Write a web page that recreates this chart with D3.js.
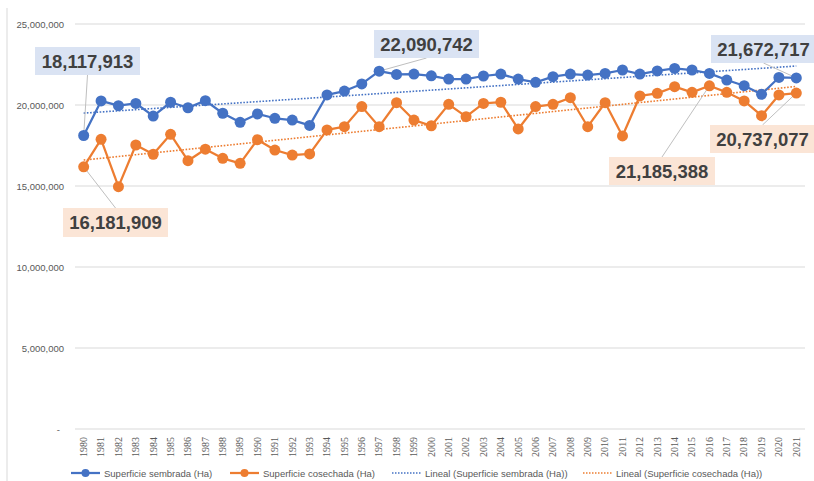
<!DOCTYPE html>
<html>
<head>
<meta charset="utf-8">
<script src="https://cdn.jsdelivr.net/npm/d3@7"></script>
<style>
  body { margin: 0; background: #fff; }
  svg { display: block; font-family: "Liberation Sans", Arial, sans-serif; }
</style>
</head>
<body>
<svg width="814" height="481"></svg>
<script>
const years = d3.range(1980, 2022).map(String);

const sembrada = [
  18117913, 20250000, 19960000, 20100000, 19320000, 20170000, 19830000, 20270000,
  19490000, 18930000, 19450000, 19180000, 19070000, 18740000, 20620000, 20860000,
  21300000, 22090742, 21890000, 21910000, 21800000, 21600000, 21600000, 21790000,
  21910000, 21600000, 21400000, 21750000, 21910000, 21850000, 21950000, 22160000,
  21910000, 22100000, 22260000, 22160000, 21950000, 21540000, 21190000, 20660000,
  21700000, 21672717
];

const cosechada = [
  16181909, 17880000, 14960000, 17530000, 16960000, 18190000, 16560000, 17270000,
  16710000, 16400000, 17860000, 17220000, 16910000, 16980000, 18460000, 18660000,
  19900000, 18660000, 20140000, 19070000, 18720000, 20040000, 19280000, 20100000,
  20170000, 18520000, 19900000, 20040000, 20450000, 18660000, 20140000, 18090000,
  20560000, 20720000, 21130000, 20780000, 21185388, 20780000, 20250000, 19340000,
  20620000, 20737077
];

const yTicks = [0, 5000000, 10000000, 15000000, 20000000, 25000000];

const seriesNames = [
  "Superficie sembrada (Ha)",
  "Superficie cosechada (Ha)",
  "Lineal (Superficie sembrada (Ha))",
  "Lineal (Superficie cosechada (Ha))"
];

// callouts: which point, and where its box sits
const callouts = [
  { s: 0, year: "1980", box: [35, 47, 105, 28] },
  { s: 1, year: "1980", box: [63, 208, 105, 29] },
  { s: 0, year: "1997", box: [374, 30, 105, 28] },
  { s: 0, year: "2021", box: [711, 35, 105, 28] },
  { s: 1, year: "2021", box: [710, 125, 105, 28] },
  { s: 1, year: "2016", box: [609, 157, 106, 28] }
];

const colors = ["#4472c4", "#ed7d31"];
const boxFill = ["#dae3f3", "#fbe5d6"];
const series = [sembrada, cosechada];

const svg = d3.select("svg");

const x = d3.scalePoint().domain(years).range([75, 805]).padding(0.5);
const y = d3.scaleLinear().domain([0, 25000000]).range([429, 24]);

// left frame line
svg.append("line")
  .attr("x1", 7).attr("x2", 7).attr("y1", 8).attr("y2", 481)
  .attr("stroke", "#d9d9d9");

// gridlines
svg.append("g")
  .selectAll("line")
  .data(yTicks)
  .enter().append("line")
  .attr("x1", 75).attr("x2", 805)
  .attr("y1", d => y(d)).attr("y2", d => y(d))
  .attr("stroke", "#d9d9d9")
  .attr("stroke-width", 1);

// y axis labels
const fmt = d3.format(",");
svg.append("g")
  .selectAll("text")
  .data(yTicks)
  .enter().append("text")
  .attr("x", d => d === 0 ? 60 : 64)
  .attr("y", d => y(d) + 3.5)
  .attr("text-anchor", "end")
  .attr("font-size", 9.5)
  .attr("fill", "#595959")
  .text(d => d === 0 ? "-" : fmt(d));

// x axis labels (rotated)
svg.append("g")
  .selectAll("text")
  .data(years)
  .enter().append("text")
  .attr("transform", d => `translate(${x(d) + 3.3},437) rotate(-90)`)
  .attr("text-anchor", "end")
  .attr("font-family", "'Liberation Serif', 'DejaVu Serif', serif")
  .attr("font-size", 10)
  .attr("fill", "#595959")
  .text(d => d);

// linear trend lines (least squares, like Excel "Lineal")
function trend(vals) {
  const idx = vals.map((v, i) => i + 1);
  const mx = d3.mean(idx), my = d3.mean(vals);
  const b = d3.sum(idx, (t, i) => (t - mx) * (vals[i] - my)) / d3.sum(idx, t => (t - mx) ** 2);
  const a = my - b * mx;
  return idx.map(t => a + b * t);
}

series.forEach((vals, s) => {
  const tr = trend(vals);
  svg.append("path")
    .datum(tr)
    .attr("fill", "none")
    .attr("stroke", colors[s])
    .attr("stroke-width", 1.6)
    .attr("stroke-dasharray", "1.6,1.6")
    .attr("d", d3.line().x((d, i) => x(years[i])).y(d => y(d)));
});

// leader lines for callouts
svg.append("g")
  .selectAll("line")
  .data(callouts)
  .enter().append("line")
  .attr("x1", d => {
    const [bx, , bw] = d.box;
    return Math.max(bx + 10, Math.min(bx + bw - 10, bx + bw / 2));
  })
  .attr("y1", d => {
    const py = y(series[d.s][years.indexOf(d.year)]);
    return py > d.box[1] ? d.box[1] + d.box[3] : d.box[1];
  })
  .attr("x2", d => x(d.year))
  .attr("y2", d => y(series[d.s][years.indexOf(d.year)]))
  .attr("stroke", "#bfbfbf")
  .attr("stroke-width", 1);

// series lines and markers
series.forEach((vals, s) => {
  svg.append("path")
    .datum(vals)
    .attr("fill", "none")
    .attr("stroke", colors[s])
    .attr("stroke-width", 2.25)
    .attr("stroke-linejoin", "round")
    .attr("d", d3.line().x((d, i) => x(years[i])).y(d => y(d)));

  svg.append("g")
    .selectAll("circle")
    .data(vals)
    .enter().append("circle")
    .attr("cx", (d, i) => x(years[i]))
    .attr("cy", d => y(d))
    .attr("r", 5.5)
    .attr("fill", colors[s]);
});

// callout boxes
const cg = svg.append("g")
  .selectAll("g")
  .data(callouts)
  .enter().append("g");

cg.append("rect")
  .attr("x", d => d.box[0]).attr("y", d => d.box[1])
  .attr("width", d => d.box[2]).attr("height", d => d.box[3])
  .attr("fill", d => boxFill[d.s]);

cg.append("text")
  .attr("x", d => d.box[0] + d.box[2] / 2)
  .attr("y", d => d.box[1] + d.box[3] / 2 + 6.5)
  .attr("text-anchor", "middle")
  .attr("font-size", 18.5)
  .attr("font-weight", "bold")
  .attr("fill", "#404040")
  .text(d => fmt(series[d.s][years.indexOf(d.year)]));

// legend
const legendX = [71, 230, 392, 583];
const lg = svg.append("g")
  .selectAll("g")
  .data(seriesNames)
  .enter().append("g")
  .attr("transform", (d, i) => `translate(${legendX[i]},473)`);

lg.append("line")
  .attr("x1", 0).attr("x2", 29).attr("y1", 0).attr("y2", 0)
  .attr("stroke", (d, i) => colors[i % 2])
  .attr("stroke-width", (d, i) => i < 2 ? 2.25 : 1.5)
  .attr("stroke-dasharray", (d, i) => i < 2 ? null : "1.5,1.5");

lg.filter((d, i) => i < 2).append("circle")
  .attr("cx", 14.5).attr("cy", 0).attr("r", 4)
  .attr("fill", (d, i) => colors[i]);

lg.append("text")
  .attr("x", 33).attr("y", 3.5)
  .attr("font-size", 9.5)
  .attr("fill", "#595959")
  .text(d => d);
</script>
</body>
</html>
